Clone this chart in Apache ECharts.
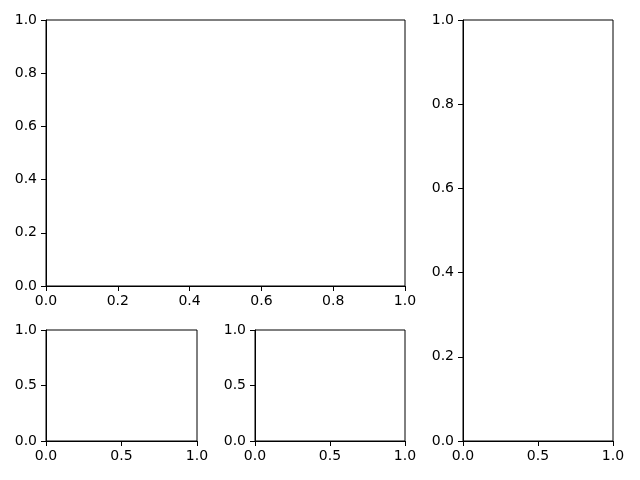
<!DOCTYPE html>
<html><head><meta charset="utf-8">
<script src="https://cdn.jsdelivr.net/npm/echarts@6/dist/echarts.min.js"></script>
<style>html,body{margin:0;padding:0;background:#fff}#c{width:640px;height:480px}</style>
</head><body><div id="c"></div>
<script>
// Axis ranges and tick steps per panel (all panels are empty)
const axisMin = 0;
const axisMax = 1;
const fineStep = 0.2;
const coarseStep = 0.5;
// panel order: top-left big, bottom-left small, bottom-middle small, right tall
const xSteps = [fineStep, coarseStep, coarseStep, coarseStep];
const ySteps = [fineStep, coarseStep, coarseStep, fineStep];

const grids = [
  {left: 46, top: 20, width: 359, height: 266},
  {left: 46, top: 330, width: 151, height: 111},
  {left: 255, top: 330, width: 150, height: 111},
  {left: 463, top: 20, width: 150, height: 421}
];

function axis(i, step, isX) {
  return {
    type: 'value', gridIndex: i, min: axisMin, max: axisMax, interval: step,
    axisLine: {show: true, onZero: false, lineStyle: {color: '#000', width: 1}},
    axisTick: {show: true, length: 5, inside: false, lineStyle: {color: '#000', width: 1}},
    splitLine: {show: false},
    axisLabel: {show: true, color: '#000', fontSize: 14, fontFamily: 'DejaVu Sans', margin: isX ? 8 : 9,
      formatter: v => v.toFixed(1)}
  };
}

const option = {
  animation: false,
  backgroundColor: '#fff',
  grid: grids.map(g => Object.assign({show: true, borderColor: '#000', borderWidth: 1, backgroundColor: 'transparent', containLabel: false}, g)),
  xAxis: grids.map((g, i) => axis(i, xSteps[i], true)),
  yAxis: grids.map((g, i) => axis(i, ySteps[i], false)),
  series: grids.map((g, i) => ({type: 'line', xAxisIndex: i, yAxisIndex: i, data: []}))
};
const chart = echarts.init(document.getElementById('c'), null, {renderer: 'canvas'});
chart.setOption(option);
</script></body></html>
